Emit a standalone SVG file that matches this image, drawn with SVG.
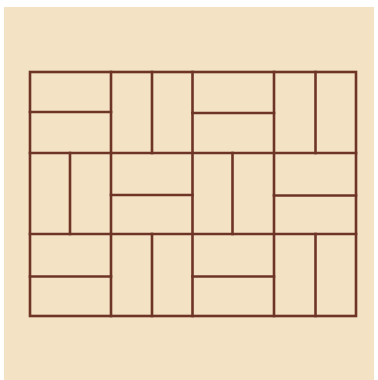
<svg xmlns="http://www.w3.org/2000/svg" width="378" height="380" viewBox="0 0 378 380">
<style>
.ln{stroke:#6e3526;stroke-width:2.6;fill:none;stroke-linecap:square}
</style>
<rect x="0" y="0" width="378" height="380" fill="#ffffff"/>
<rect x="4" y="7" width="370" height="373" fill="#f3e2c3"/>
<g id="grid">
<rect id="outer" class="ln" x="30" y="72" width="326" height="244"/>
<g id="connectors">
<line class="ln" x1="30" y1="153" x2="356" y2="153"/>
<line class="ln" x1="30" y1="234" x2="356" y2="234"/>
<line class="ln" x1="111" y1="72" x2="111" y2="316"/>
<line class="ln" x1="192.5" y1="72" x2="192.5" y2="316"/>
<line class="ln" x1="274" y1="72" x2="274" y2="316"/>
</g>
<g id="r1">
<line class="ln" x1="30" y1="112" x2="111" y2="112"/>
<line class="ln" x1="152" y1="72" x2="152" y2="153"/>
<line class="ln" x1="192.5" y1="113" x2="274" y2="113"/>
<line class="ln" x1="315.5" y1="72" x2="315.5" y2="153"/>
</g>
<g id="r2">
<line class="ln" x1="70" y1="153" x2="70" y2="234"/>
<line class="ln" x1="111" y1="195" x2="192.5" y2="195"/>
<line class="ln" x1="232.5" y1="153" x2="232.5" y2="234"/>
<line class="ln" x1="274" y1="195.5" x2="356" y2="195.5"/>
</g>
<g id="r3">
<line class="ln" x1="30" y1="276.5" x2="111" y2="276.5"/>
<line class="ln" x1="152" y1="234" x2="152" y2="316"/>
<line class="ln" x1="192.5" y1="276.5" x2="274" y2="276.5"/>
<line class="ln" x1="315.5" y1="234" x2="315.5" y2="316"/>
</g>
</g>
</svg>
